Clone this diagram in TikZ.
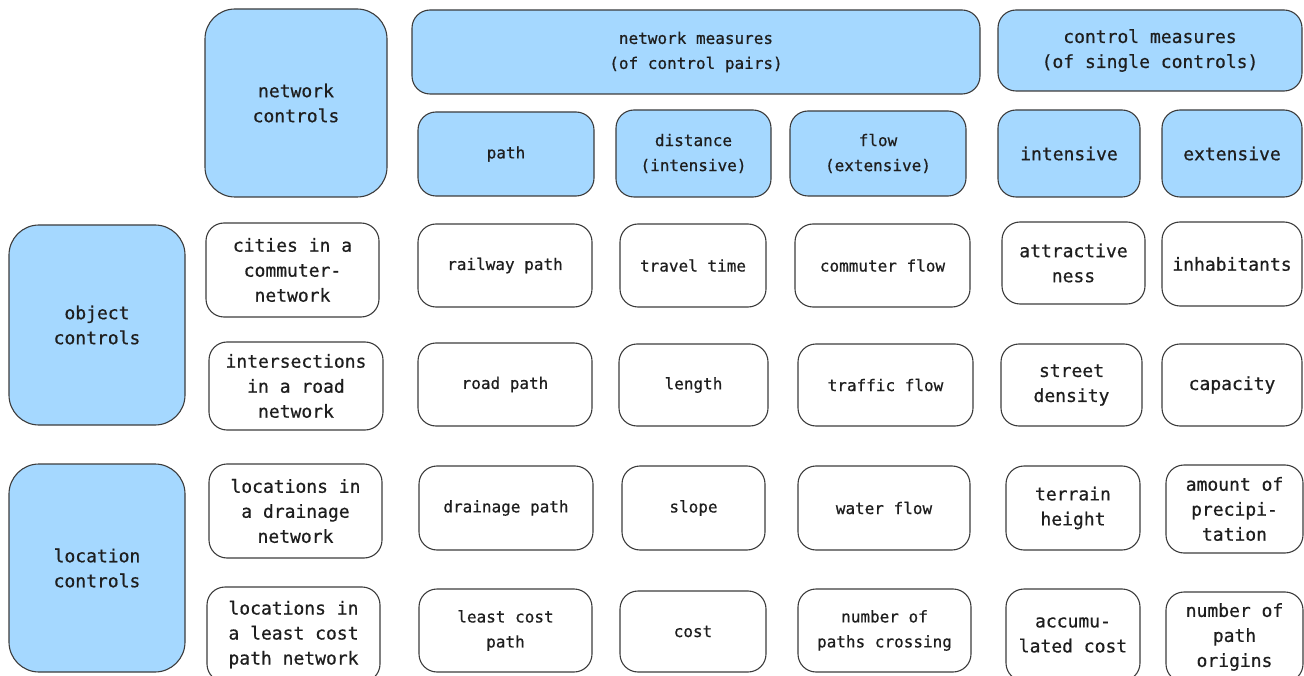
\documentclass[tikz,border=0pt]{standalone}
\usepackage{fontspec}
\newfontfamily\diagmono[FakeBold=0.6]{DejaVu Sans Mono}
\definecolor{hdrblue}{HTML}{A5D8FF}
\definecolor{inkc}{HTML}{1E1E1E}
\definecolor{edgec}{HTML}{3C3C3C}
\tikzset{
  cell/.style={draw=edgec, line width=1.1pt, rounded corners=18pt, fill=white,
    anchor=north west, inner sep=0pt, outer sep=0pt, align=center, text=inkc},
  hdr/.style={cell, fill=hdrblue},
  bighdr/.style={hdr, rounded corners=30pt},
  bigtxt/.style={font=\diagmono\fontsize{18}{25}\selectfont},
  smalltxt/.style={font=\diagmono\fontsize{16}{25}\selectfont},
}
\begin{document}
\begin{tikzpicture}[x=1pt,y=-1pt]
\useasboundingbox (0,0) rectangle (1304,676);
\clip (0,0) rectangle (1304,676);
% header row
\node[bighdr,bigtxt,minimum width=182pt,minimum height=188pt] (nc) at (205,9) {network\\controls};
\node[hdr,smalltxt,minimum width=568pt,minimum height=84pt] (nm) at (412,10) {network measures\\(of control pairs)};
\node[hdr,bigtxt,minimum width=304pt,minimum height=81pt] (cm) at (998,10) {control measures\\(of single controls)};
\node[hdr,smalltxt,minimum width=176pt,minimum height=84pt] (hpath) at (418,112) {path};
\node[hdr,smalltxt,minimum width=155pt,minimum height=87pt] (hdist) at (616,110) {distance\\(intensive)};
\node[hdr,smalltxt,minimum width=176pt,minimum height=85pt] (hflow) at (790,111) {flow\\(extensive)};
\node[hdr,bigtxt,minimum width=142pt,minimum height=87pt] (hint) at (998,110) {intensive};
\node[hdr,bigtxt,minimum width=140pt,minimum height=87pt] (hext) at (1162,110) {extensive};
% left headers
\node[bighdr,bigtxt,minimum width=176pt,minimum height=200pt] (oc) at (9,225) {object\\controls};
\node[bighdr,bigtxt,minimum width=176pt,minimum height=208pt] (lc) at (9,464) {location\\controls};
% row 1
\node[cell,bigtxt,minimum width=173pt,minimum height=94pt] (r1a) at (206,223) {cities in a\\commuter-\\network};
\node[cell,smalltxt,minimum width=174pt,minimum height=83pt] (r1b) at (418,224) {railway path};
\node[cell,smalltxt,minimum width=146pt,minimum height=83pt] (r1c) at (620,224) {travel time};
\node[cell,smalltxt,minimum width=175pt,minimum height=83pt] (r1d) at (795,224) {commuter flow};
\node[cell,bigtxt,minimum width=143pt,minimum height=82pt] (r1e) at (1002,222) {attractive\\ness};
\node[cell,bigtxt,minimum width=140pt,minimum height=84pt] (r1f) at (1162,222) {inhabitants};
% row 2
\node[cell,bigtxt,minimum width=174pt,minimum height=88pt] (r2a) at (209,342) {intersections\\in a road\\network};
\node[cell,smalltxt,minimum width=174pt,minimum height=83pt] (r2b) at (418,343) {road path};
\node[cell,smalltxt,minimum width=149pt,minimum height=82pt] (r2c) at (619,344) {length};
\node[cell,smalltxt,minimum width=175pt,minimum height=82pt] (r2d) at (798,344) {traffic flow};
\node[cell,bigtxt,minimum width=141pt,minimum height=82pt] (r2e) at (1001,344) {street\\density};
\node[cell,bigtxt,minimum width=140pt,minimum height=82pt] (r2f) at (1162,344) {capacity};
% row 3
\node[cell,bigtxt,minimum width=173pt,minimum height=94pt] (r3a) at (209,464) {locations in\\a drainage\\network};
\node[cell,smalltxt,minimum width=174pt,minimum height=84pt] (r3b) at (419,466) {drainage path};
\node[cell,smalltxt,minimum width=143pt,minimum height=84pt] (r3c) at (622,466) {slope};
\node[cell,smalltxt,minimum width=172pt,minimum height=84pt] (r3d) at (798,466) {water flow};
\node[cell,bigtxt,minimum width=134pt,minimum height=84pt] (r3e) at (1006,466) {terrain\\height};
\node[cell,bigtxt,minimum width=137pt,minimum height=88pt] (r3f) at (1166,465) {amount of\\precipi-\\tation};
% row 4
\node[cell,bigtxt,minimum width=173pt,minimum height=95pt] (r4a) at (207,587) {locations in\\a least cost\\path network};
\node[cell,smalltxt,minimum width=173pt,minimum height=83pt] (r4b) at (419,589) {least cost\\path};
\node[cell,smalltxt,minimum width=146pt,minimum height=81pt] (r4c) at (620,591) {cost};
\node[cell,smalltxt,minimum width=173pt,minimum height=83pt] (r4d) at (798,589) {number of\\paths crossing};
\node[cell,bigtxt,minimum width=134pt,minimum height=92pt] (r4e) at (1006,589) {accumu-\\lated cost};
\node[cell,bigtxt,minimum width=137pt,minimum height=90pt] (r4f) at (1166,592) {number of\\path\\origins};
\end{tikzpicture}
\end{document}
